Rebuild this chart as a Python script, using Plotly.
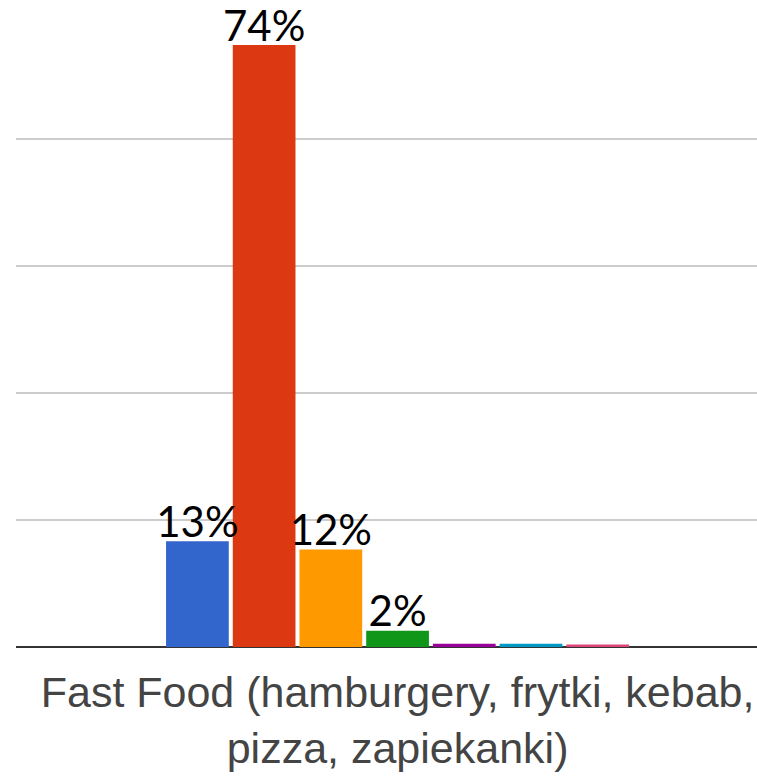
import plotly.graph_objects as go

# Category and per-series values (percent of answers)
categories = ["Fast Food (hamburgery, frytki, kebab,<br>pizza, zapiekanki)"]
series_names = ["Odpowiedź 1", "Odpowiedź 2", "Odpowiedź 3", "Odpowiedź 4",
                "Odpowiedź 5", "Odpowiedź 6", "Odpowiedź 7"]
series_values = [13, 74, 12, 2, 0.4, 0.4, 0.3]
series_colors = ["#3366cc", "#dc3912", "#ff9900", "#109618",
                 "#990099", "#0099c6", "#dd4477"]

Y_MAX = 77.2
# labels rest slightly into the top edge of their bars
LABEL_DROP = 0.75

fig = go.Figure()
for i, (name, val, color) in enumerate(zip(series_names, series_values, series_colors)):
    fig.add_trace(go.Bar(
        name=name,
        x=categories,
        y=[val],
        offsetgroup=str(i),
        marker=dict(color=color, line=dict(width=0)),
    ))

# Value labels on top of each bar, grouped the same way as the bars
for i, (name, val) in enumerate(zip(series_names, series_values)):
    label = f"{val:.0f}%" if val >= 1 else ""
    fig.add_trace(go.Scatter(
        name=name,
        x=categories,
        y=[val],
        yaxis="y2",
        offsetgroup=str(i),
        mode="text",
        text=[label],
        textposition="top center",
        cliponaxis=False,
        textfont=dict(family="Lato, sans-serif", size=42, color="#000000"),
        hoverinfo="skip",
    ))

fig.update_layout(
    width=757,
    height=777,
    margin=dict(l=16, r=0, t=19, b=130),
    paper_bgcolor="white",
    plot_bgcolor="white",
    barmode="group",
    scattermode="group",
    bargap=0.388,
    bargroupgap=0.06,
    showlegend=False,
    xaxis=dict(
        type="category",
        range=[-0.5, 0.471],
        showgrid=False,
        showline=False,
        ticks="",
        ticklabelstandoff=16,
        tickfont=dict(family="Liberation Sans, Arial, sans-serif", size=43, color="#444444"),
    ),
    yaxis=dict(
        range=[0, Y_MAX],
        tick0=0,
        dtick=15.6,
        showticklabels=False,
        showgrid=True,
        gridcolor="#cccccc",
        gridwidth=2,
        zeroline=True,
        zerolinecolor="#333333",
        zerolinewidth=2,
        showline=False,
        ticks="",
    ),
    yaxis2=dict(
        overlaying="y",
        range=[LABEL_DROP, Y_MAX + LABEL_DROP],
        visible=False,
        showgrid=False,
        zeroline=False,
    ),
)

fig.write_html("out.html")
